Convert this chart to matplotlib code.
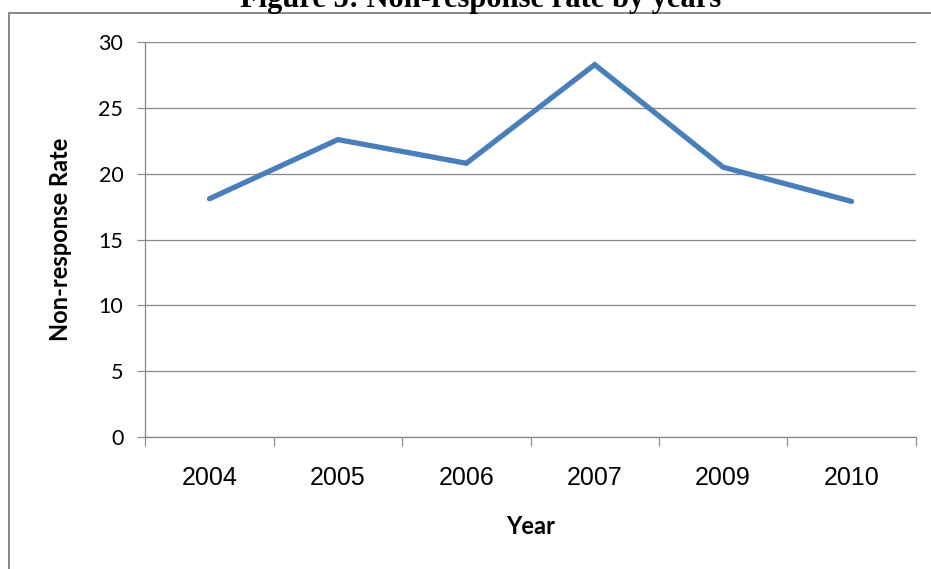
import matplotlib
matplotlib.use("Agg")
import matplotlib.pyplot as plt
from matplotlib.lines import Line2D
import numpy as np

# Non-response rate per survey year
years = ["2004", "2005", "2006", "2007", "2009", "2010"]
rates = [18.1, 22.6, 20.8, 28.3, 20.5, 17.9]
y_ticks = [0, 5, 10, 15, 20, 25, 30]

W, H = 931, 569
DPI = 100
fig = plt.figure(figsize=(W / DPI, H / DPI), dpi=DPI)
fig.patch.set_facecolor("white")

px = lambda v: v * 72.0 / DPI  # pixels -> points

left, right, top, bottom = 145.3, 915.7, 42.3, 436.7
ax = fig.add_axes([left / W, 1 - bottom / H, (right - left) / W, (bottom - top) / H])

grey = "#8a8a8a"
x = np.arange(len(years))
ax.plot(x, rates, color="#4a7ebb", lw=px(5.3), solid_capstyle="round",
        solid_joinstyle="miter", zorder=3)

ax.set_xlim(-0.5, len(years) - 0.5)
ax.set_ylim(0, 30)

# category boundaries carry the ticks, labels sit in between
ax.set_xticks(np.arange(len(years) + 1) - 0.5)
ax.set_xticklabels([])
ax.set_xticks(x, minor=True)
ax.set_xticklabels(years, minor=True, family="Liberation Sans", fontsize=18)
ax.tick_params(axis="x", which="major", direction="out", length=px(9),
               width=px(1.2), color=grey)
ax.tick_params(axis="x", which="minor", length=0, pad=px(29))

ax.set_yticks(y_ticks)
ax.set_yticklabels([str(v) for v in y_ticks], family="Lato", fontsize=15.5)
ax.tick_params(axis="y", direction="out", length=px(8), width=px(1.2),
               color=grey, pad=px(14))

ax.yaxis.grid(True, color=grey, lw=px(1.3))
ax.set_axisbelow(True)
for s in ("top", "right"):
    ax.spines[s].set_visible(False)
for s in ("left", "bottom"):
    ax.spines[s].set_color(grey)
    ax.spines[s].set_linewidth(px(1.3))

# axis titles
fig.text(60 / W, 1 - 239.5 / H, "Non-response Rate", rotation=90,
         ha="center", va="center", family="Lato", weight="bold", fontsize=17)
fig.text(530.5 / W, 1 - 527 / H, "Year", ha="center", va="center",
         family="Lato", weight="bold", fontsize=17)

# figure caption (runs off the top edge) and surrounding frame
fig.text(481 / W, 1 - 7 / H, "Figure 5: Non-response rate by years",
         ha="center", va="baseline", family="Liberation Serif",
         weight="bold", fontsize=22)
fx, fy = 9.3 / W, 1 - 12.7 / H
fig.add_artist(Line2D([fx, fx], [0, fy], color=grey, lw=px(2),
                      transform=fig.transFigure))
fig.add_artist(Line2D([fx, 1], [fy, fy], color=grey, lw=px(2),
                      transform=fig.transFigure))

fig.savefig("out.png", dpi=DPI)
